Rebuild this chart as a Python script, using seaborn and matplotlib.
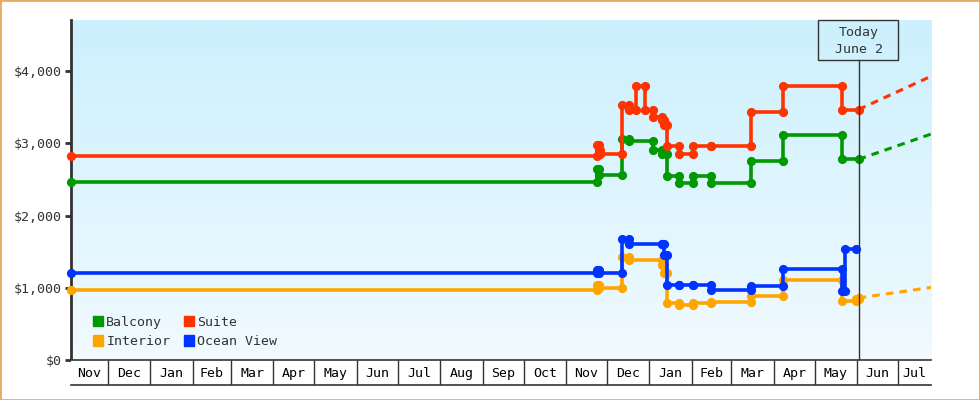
import numpy as np
import pandas as pd
import seaborn as sns
from matplotlib import pyplot as plt
from matplotlib.patches import Rectangle, Patch
from matplotlib.colors import LinearSegmentedColormap
from matplotlib.ticker import FuncFormatter

START = "2022-11-04"
END = "2024-07-25"
TODAY = "2024-06-02"

balcony_dates = ["2022-11-04", "2023-11-24", "2023-11-25", "2023-12-12", "2023-12-17",
                 "2024-01-04", "2024-01-10", "2024-01-14", "2024-01-23", "2024-02-02",
                 "2024-02-15", "2024-03-15", "2024-04-08", "2024-05-21"]
balcony_prices = [2460, 2640, 2560, 3060, 3030, 2910, 2860, 2550, 2450, 2550,
                  2450, 2760, 3120, 2780]

suite_dates = ["2022-11-04", "2023-11-24", "2023-11-25", "2023-11-26", "2023-12-12",
               "2023-12-17", "2023-12-22", "2023-12-29", "2024-01-04", "2024-01-10",
               "2024-01-12", "2024-01-14", "2024-01-23", "2024-02-02", "2024-02-15",
               "2024-03-15", "2024-04-08", "2024-05-21"]
suite_prices = [2820, 2980, 2910, 2850, 3530, 3460, 3790, 3460, 3360, 3330,
                3260, 2960, 2860, 2960, 2960, 3440, 3790, 3470]

interior_dates = ["2022-11-04", "2023-11-24", "2023-11-25", "2023-12-12", "2023-12-17",
                  "2024-01-10", "2024-01-12", "2024-01-14", "2024-01-23", "2024-02-02",
                  "2024-02-15", "2024-03-15", "2024-04-08", "2024-05-21", "2024-05-31",
                  "2024-06-02"]
interior_prices = [970, 1040, 1000, 1430, 1380, 1320, 1200, 790, 765, 790,
                   800, 880, 1110, 820, 850, 860]

ocean_dates = ["2022-11-04", "2023-11-24", "2023-11-25", "2023-12-12", "2023-12-17",
               "2024-01-10", "2024-01-12", "2024-01-14", "2024-01-23", "2024-02-02",
               "2024-02-15", "2024-03-15", "2024-04-08", "2024-05-21", "2024-05-23"]
ocean_prices = [1210, 1250, 1210, 1680, 1610, 1610, 1450, 1040, 1040, 1040,
                970, 1030, 1260, 950, 1540]
ocean_stop = "2024-05-31"

# forecast value at the right edge
balcony_next = 3130
suite_next = 3930
interior_next = 1005

GREEN = "#009900"
RED = "#ff3300"
ORANGE = "#ffa500"
BLUE = "#0033ff"
INK = "#333333"


def step_path(dates, prices, stop):
    d = pd.to_datetime(dates)
    xs, ys = [d[0]], [prices[0]]
    for i in range(1, len(d)):
        xs += [d[i], d[i]]
        ys += [prices[i - 1], prices[i]]
    xs.append(pd.Timestamp(stop))
    ys.append(prices[-1])
    return xs, ys


sns.set_style("white")
plt.rcParams["font.family"] = ["DejaVu Sans Mono"]

fig = plt.figure(figsize=(9.8, 4), dpi=100)
ax = fig.add_axes([71 / 980, 40 / 400, 860 / 980, 340 / 400])
strip = fig.add_axes([71 / 980, 15 / 400, 860 / 980, 25 / 400], sharex=ax)

grad = LinearSegmentedColormap.from_list("bg", ["#f1faff", "#ccf0fd"])
ax.imshow(np.linspace(0, 1, 256).reshape(-1, 1), cmap=grad, origin="lower",
          extent=[0, 1, 0, 1], transform=ax.transAxes, aspect="auto", zorder=0)

series = [
    (interior_dates, interior_prices, TODAY, ORANGE),
    (ocean_dates, ocean_prices, ocean_stop, BLUE),
    (balcony_dates, balcony_prices, TODAY, GREEN),
    (suite_dates, suite_prices, TODAY, RED),
]
for dates, prices, stop, color in series:
    xs, ys = step_path(dates, prices, stop)
    sns.lineplot(x=xs, y=ys, sort=False, estimator=None, color=color, lw=2.6,
                 marker="o", ms=6.6, mew=0, ax=ax, zorder=3, clip_on=False)

for last, nxt, color in [(balcony_prices[-1], balcony_next, GREEN),
                         (suite_prices[-1], suite_next, RED),
                         (interior_prices[-1], interior_next, ORANGE)]:
    sns.lineplot(x=pd.to_datetime([TODAY, END]), y=[last, nxt], color=color,
                 lw=2.2, ls=(0, (2.5, 2)), ax=ax, zorder=3)

ax.set_xlim(pd.Timestamp(START), pd.Timestamp(END))
ax.set_ylim(0, 4710)
ax.set_yticks([0, 1000, 2000, 3000, 4000])
ax.yaxis.set_major_formatter(FuncFormatter(lambda v, p: f"${v:,.0f}"))
ax.tick_params(axis="y", left=True, length=4, width=2, color=INK, labelcolor=INK,
               labelsize=9.5, pad=3)
ax.tick_params(axis="x", bottom=False, labelbottom=False)
for s in ["top", "right", "bottom"]:
    ax.spines[s].set_visible(False)
ax.spines["left"].set_color(INK)
ax.spines["left"].set_linewidth(2)
ax.set_xlabel("")
ax.set_ylabel("")

# today marker
today = pd.Timestamp(TODAY)
ax.axvline(today, ymin=0, ymax=(360 - 60) / 340, color=INK, lw=1, zorder=4)
ax.add_patch(Rectangle(((818 - 71) / 860, (360 - 60) / 340), 80 / 860, 40 / 340,
                       transform=ax.transAxes, fill=False, ec=INK, lw=1,
                       clip_on=False, zorder=5))
ax.text(today, 1 - 21 / 340, "Today\nJune 2", transform=ax.get_xaxis_transform(),
        ha="center", va="center", fontsize=9.5, color=INK, linespacing=1.35)

handles = [Patch(color=GREEN, label="Balcony"), Patch(color=ORANGE, label="Interior"),
           Patch(color=RED, label="Suite"), Patch(color=BLUE, label="Ocean View")]
ax.legend(handles=handles, ncol=2, loc="lower left", bbox_to_anchor=(0.025, 0.035),
          frameon=False, fontsize=9.5, handlelength=0.8, handleheight=0.8,
          handletextpad=0.25, columnspacing=1.0, labelspacing=0.5,
          borderpad=0, borderaxespad=0, labelcolor=INK)

# month strip
month_starts = pd.date_range("2022-12-01", "2024-07-01", freq="MS")
edges = [pd.Timestamp(START)] + list(month_starts) + [pd.Timestamp(END)]
strip.set_facecolor("white")
strip.vlines(month_starts, 0, 1, color=INK, lw=1)
for a, b in zip(edges[:-1], edges[1:]):
    strip.text(a + (b - a) / 2, 0.45, a.strftime("%b"), ha="center", va="center",
               fontsize=9.5, color="black")
strip.set_ylim(0, 1)
strip.set_yticks([])
strip.tick_params(axis="x", bottom=False, labelbottom=False)
for s in ["left", "right"]:
    strip.spines[s].set_visible(False)
strip.spines["top"].set_color(INK)
strip.spines["top"].set_linewidth(1.2)
strip.spines["bottom"].set_color(INK)
strip.spines["bottom"].set_linewidth(1.2)

fig.patches.append(Rectangle((0, 0), 1, 1, transform=fig.transFigure, fill=False,
                             ec="#e9aa66", lw=2))

fig.savefig("out.png", dpi=100)
